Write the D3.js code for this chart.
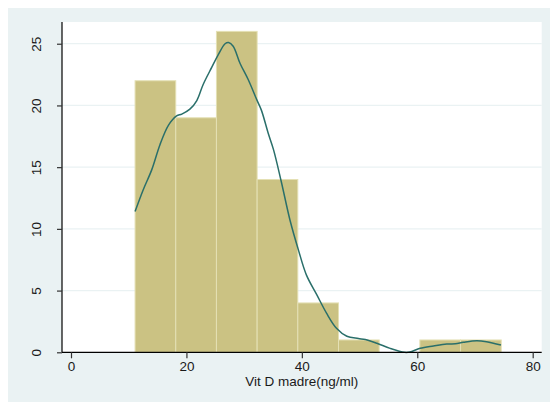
<!DOCTYPE html>
<html>
<head>
<meta charset="utf-8">
<script src="https://cdn.jsdelivr.net/npm/d3@7"></script>
<style>
  html, body { margin: 0; padding: 0; background: #ffffff; }
  svg { display: block; }
  text { font-family: "Liberation Sans", Arial, Helvetica, sans-serif; fill: #1a1a1a; }
</style>
</head>
<body>
<svg id="chart" width="550" height="402"></svg>
<script>
// Histogram bins (left edge, common width) and their heights
const binStarts = [11.1, 18.15, 25.2, 32.25, 39.3, 46.35, 53.4, 60.45, 67.5];
const binWidth = 7.05;
const binHeights = [22, 19, 26, 14, 4, 1, 0, 1, 1];

// Kernel density overlay, sampled along the x axis
const densityX = [11.1, 12.5, 14.0, 15.4, 16.9, 18.3, 19.2, 20.6, 21.8, 22.9, 24.4, 25.5, 26.7, 27.3,
                  28.1, 29.3, 30.7, 32.2, 33.0, 34.2, 35.1, 36.4, 37.95, 39.4, 40.8, 42.6, 44.3, 46.0,
                  47.8, 49.8, 51.0, 53.0, 55.3, 57.8, 58.7, 60.5, 62.8, 65.1, 66.6, 68.0, 70.3, 72.0, 74.5];
const densityY = [11.4, 13.15, 14.8, 16.8, 18.4, 19.15, 19.3, 19.7, 20.4, 21.7, 23.1, 24.1, 25.0, 25.1,
                  24.8, 23.4, 22.1, 20.45, 19.6, 17.7, 16.4, 13.9, 10.7, 8.3, 6.25, 4.65, 3.15, 1.95,
                  1.3, 1.12, 1.03, 0.73, 0.32, 0.0, 0.02, 0.32, 0.51, 0.67, 0.69, 0.81, 0.94, 0.86, 0.59];

const xTicks = [0, 20, 40, 60, 80];
const yTicks = [0, 5, 10, 15, 20, 25];
const xTitle = "Vit D madre(ng/ml)";

const svg = d3.select("#chart");
const W = 550, H = 402;
const plot = { left: 62, right: 541.7, top: 22, bottom: 352.3 };

// Outer graph region
svg.append("rect").attr("x", 8).attr("y", 8).attr("width", W - 8).attr("height", H - 8)
  .attr("fill", "#eaf2f3");
// Plot region
svg.append("rect").attr("x", plot.left).attr("y", plot.top)
  .attr("width", plot.right - plot.left).attr("height", plot.bottom - plot.top)
  .attr("fill", "#ffffff");

const x = d3.scaleLinear().domain([-1.56, 81.56]).range([plot.left, plot.right]);
const y = d3.scaleLinear().domain([0, 26.76]).range([plot.bottom, plot.top]);

// Horizontal grid lines
svg.append("g").selectAll("line").data(yTicks.filter(d => d > 0)).join("line")
  .attr("x1", plot.left).attr("x2", plot.right)
  .attr("y1", d => y(d)).attr("y2", d => y(d))
  .attr("stroke", "#eaf2f3").attr("stroke-width", 1.2);

// Bars
svg.append("g").selectAll("rect").data(binStarts.map((s, i) => ({ s, h: binHeights[i] })).filter(d => d.h > 0))
  .join("rect")
  .attr("x", d => x(d.s))
  .attr("width", d => x(d.s + binWidth) - x(d.s))
  .attr("y", d => y(d.h))
  .attr("height", d => y(0) - y(d.h))
  .attr("fill", "#cbc283")
  .attr("stroke", "#e4e0b4")
  .attr("stroke-width", 1);

// Density curve
const line = d3.line().x(d => x(d[0])).y(d => y(d[1])).curve(d3.curveCatmullRom.alpha(0.5));
svg.append("path")
  .datum(densityX.map((v, i) => [v, densityY[i]]))
  .attr("d", line)
  .attr("fill", "none")
  .attr("stroke", "#2a6f6a")
  .attr("stroke-width", 1.5);

// Axes
const xAxis = d3.axisBottom(x).tickValues(xTicks).tickSize(6).tickPadding(3).tickSizeOuter(0);
const gx = svg.append("g").attr("transform", `translate(0,${plot.bottom})`).call(xAxis);
gx.select(".domain").attr("d", `M${plot.left},0H${plot.right}`).attr("stroke", "#000").attr("stroke-width", 1.2);
gx.selectAll(".tick line").attr("stroke", "#333").attr("stroke-width", 1.2);
gx.selectAll(".tick text").attr("font-size", 13.5).attr("font-family", "Liberation Sans, Arial, sans-serif").attr("fill", "#1a1a1a");

const yAxis = d3.axisLeft(y).tickValues(yTicks).tickSize(5).tickSizeOuter(0);
const gy = svg.append("g").attr("transform", `translate(${plot.left},0)`).call(yAxis);
gy.select(".domain").attr("d", `M0,${plot.top}V${plot.bottom}`).attr("stroke", "#000").attr("stroke-width", 1.2);
gy.selectAll(".tick line").attr("stroke", "#333").attr("stroke-width", 1.2);
gy.selectAll(".tick text")
  .attr("font-size", 13.5).attr("font-family", "Liberation Sans, Arial, sans-serif").attr("fill", "#1a1a1a")
  .attr("x", null).attr("dy", null)
  .attr("text-anchor", "middle")
  .attr("transform", "translate(-21,0) rotate(-90)");

// Axis title
svg.append("text")
  .attr("x", (plot.left + plot.right) / 2)
  .attr("y", 386)
  .attr("text-anchor", "middle")
  .attr("font-size", 13.5)
  .text(xTitle);
</script>
</body>
</html>
